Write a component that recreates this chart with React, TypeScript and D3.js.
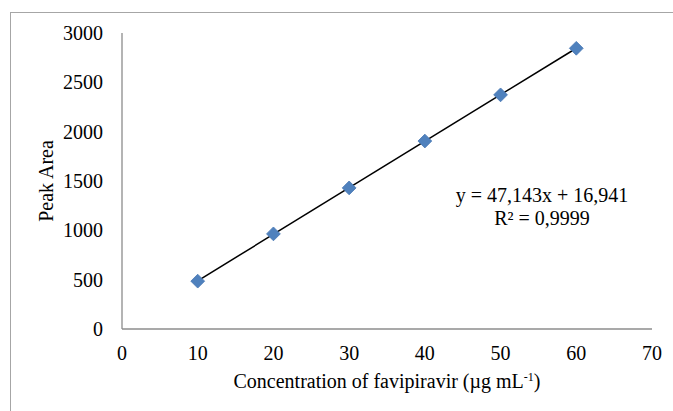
import * as d3 from "d3";
import React, {useEffect, useRef} from "react";

// favipiravir calibration data
const concentrations = [10, 20, 30, 40, 50, 60];
const peakAreas = [485, 964, 1430, 1905, 2373, 2845];
const xTicks = [0, 10, 20, 30, 40, 50, 60, 70];
const yTicks = [0, 500, 1000, 1500, 2000, 2500, 3000];
const slope = 47.143;
const intercept = 16.941;
const equationLines = ["y = 47,143x + 16,941", "R² = 0,9999"];

const width = 673;
const height = 411;
const font = "'Liberation Serif', 'Times New Roman', serif";
const fontSize = "20px";

const App = () => {
    const svgRef = useRef(null);

    useEffect(() => {
        const xScale = d3.scaleLinear().domain([0, 70]).range([122, 652]);
        const yScale = d3.scaleLinear().domain([0, 3000]).range([329, 33]);

        const svg = d3.select(svgRef.current);
        svg.selectAll("*").remove();

        // outer chart border
        svg.append("rect")
            .attr("x", 10.5)
            .attr("y", 12.5)
            .attr("width", 700)
            .attr("height", 420)
            .attr("fill", "white")
            .attr("stroke", "#a6a6a6")
            .attr("stroke-width", 1);

        // axes lines
        svg.append("line")
            .attr("x1", xScale(0)).attr("y1", yScale(0))
            .attr("x2", xScale(70)).attr("y2", yScale(0))
            .attr("stroke", "#8c8c8c").attr("stroke-width", 1.3);
        svg.append("line")
            .attr("x1", xScale(0)).attr("y1", yScale(0))
            .attr("x2", xScale(0)).attr("y2", yScale(3000))
            .attr("stroke", "#8c8c8c").attr("stroke-width", 1.3);

        // tick labels
        svg.append("g").selectAll("text")
            .data(xTicks)
            .join("text")
            .attr("x", d => xScale(d))
            .attr("y", 360)
            .attr("text-anchor", "middle")
            .style("font-family", font)
            .style("font-size", fontSize)
            .text(d => d);

        svg.append("g").selectAll("text")
            .data(yTicks)
            .join("text")
            .attr("x", 103)
            .attr("y", d => yScale(d) + 7)
            .attr("text-anchor", "end")
            .style("font-family", font)
            .style("font-size", fontSize)
            .text(d => d);

        // trendline
        const xs = d3.extent(concentrations);
        svg.append("line")
            .attr("x1", xScale(xs[0])).attr("y1", yScale(slope * xs[0] + intercept))
            .attr("x2", xScale(xs[1])).attr("y2", yScale(slope * xs[1] + intercept))
            .attr("stroke", "black").attr("stroke-width", 1.5);

        // diamond markers
        const diamond = d3.symbol().type(d3.symbolSquare).size(95);
        svg.append("g").selectAll("path")
            .data(concentrations)
            .join("path")
            .attr("d", diamond)
            .attr("transform", (d, i) => `translate(${xScale(d)},${yScale(peakAreas[i])}) rotate(45)`)
            .attr("fill", "#4f81bd")
            .attr("stroke", "#4a7ab5")
            .attr("stroke-width", 0.8);

        // equation
        svg.append("g").selectAll("text")
            .data(equationLines)
            .join("text")
            .attr("x", 542)
            .attr("y", (d, i) => 202 + i * 23)
            .attr("text-anchor", "middle")
            .style("font-family", font)
            .style("font-size", fontSize)
            .text(d => d);

        // axis titles
        const xTitle = svg.append("text")
            .attr("x", 387)
            .attr("y", 388)
            .attr("text-anchor", "middle")
            .style("font-family", font)
            .style("font-size", fontSize);
        xTitle.append("tspan").text("Concentration of favipiravir (µg mL");
        xTitle.append("tspan").attr("dy", -7).style("font-size", "12px").text("-1");
        xTitle.append("tspan").attr("dy", 7).text(")");

        svg.append("text")
            .attr("transform", `translate(53, ${(yScale(0) + yScale(3000)) / 2}) rotate(-90)`)
            .attr("text-anchor", "middle")
            .style("font-family", font)
            .style("font-size", fontSize)
            .text("Peak Area");
    }, []);

    return (
        <svg ref={svgRef} width={width} height={height}
             style={{position: "absolute", left: 0, top: 0, background: "white"}} />
    );
};

export default App;
